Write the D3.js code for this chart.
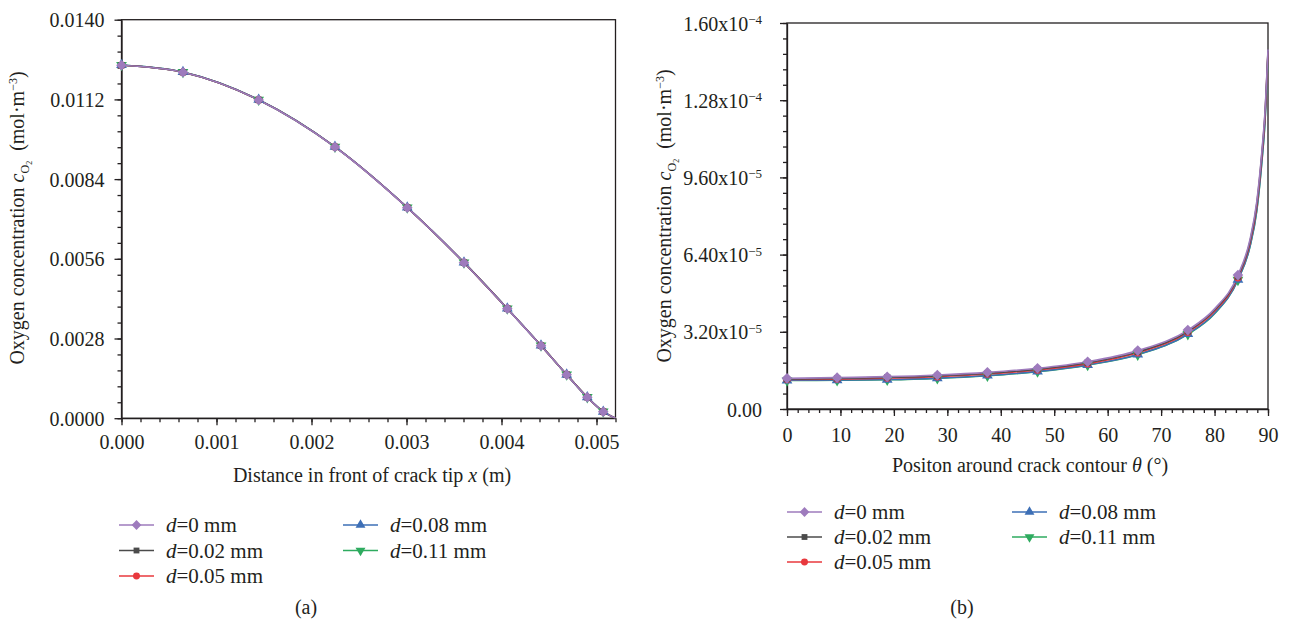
<!DOCTYPE html>
<html>
<head>
<meta charset="utf-8">
<script src="https://cdn.jsdelivr.net/npm/d3@7"></script>
<style>
  html, body { margin: 0; padding: 0; background: #fff; }
  svg { display: block; font-family: "Liberation Serif", "DejaVu Serif", serif; }
  .axis text { font-family: "Liberation Serif", serif; font-size: 20px; fill: #231f20; }
  .axis path, .axis line { stroke: #231f20; stroke-width: 1.3; }
</style>
</head>
<body>
<svg id="fig" width="1291" height="627"></svg>
<script>
// ---------- data ----------
// Series labels (thickness d) and their styles
const seriesNames = ["d=0 mm", "d=0.02 mm", "d=0.05 mm", "d=0.08 mm", "d=0.11 mm"];
const seriesColors = ["#9e7bbd", "#4b4b4b", "#e8383d", "#3d6fb6", "#2eab5f"];
const seriesSymbols = ["diamond", "square", "circle", "triangle", "triangleDown"];

// (a) distance ahead of crack tip x (m); last point is the crack-front end (no marker)
const xDist = [0, 0.000647, 0.001444, 0.002247, 0.003008, 0.003605, 0.004061, 0.004416, 0.004686, 0.004903, 0.005071, 0.0052];
const markedA = 11;
// concentration (mol/m^3) for each d – the five curves overlap
const concA_d0   = [0.012398, 0.012152, 0.011179, 0.009528, 0.007395, 0.005463, 0.003847, 0.002547, 0.001528, 0.000734, 0.000228, 0];
const concA_d002 = [0.012400, 0.012154, 0.011181, 0.009530, 0.007397, 0.005465, 0.003849, 0.002549, 0.001530, 0.000736, 0.000229, 0];
const concA_d005 = [0.012402, 0.012156, 0.011183, 0.009532, 0.007399, 0.005467, 0.003850, 0.002550, 0.001531, 0.000737, 0.000230, 0];
const concA_d008 = [0.012410, 0.012164, 0.011191, 0.009540, 0.007406, 0.005473, 0.003855, 0.002554, 0.001534, 0.000739, 0.000231, 0];
const concA_d011 = [0.012405, 0.012159, 0.011186, 0.009535, 0.007402, 0.005469, 0.003852, 0.002552, 0.001532, 0.000738, 0.000230, 0];

// (b) position around crack contour theta (deg); markers every 9.375 deg
const theta = [0, 9.375, 18.75, 28.125, 37.5, 46.875, 56.25, 65.625, 75, 80, 84.375, 86.6, 87.9, 88.9, 89.4, 90];
const markedB = [0, 1, 2, 3, 4, 5, 6, 7, 8, 10];
const concB_d0   = [1.27e-5, 1.30e-5, 1.34e-5, 1.41e-5, 1.52e-5, 1.69e-5, 1.96e-5, 2.42e-5, 3.27e-5, 4.15e-5, 5.55e-5, 7.00e-5, 8.60e-5, 1.08e-4, 1.22e-4, 1.49e-4];
const concB_d002 = [1.24e-5, 1.27e-5, 1.31e-5, 1.37e-5, 1.48e-5, 1.65e-5, 1.92e-5, 2.37e-5, 3.22e-5, 4.10e-5, 5.49e-5, 6.92e-5, 8.50e-5, 1.07e-4, 1.21e-4, 1.485e-4];
const concB_d005 = [1.22e-5, 1.24e-5, 1.28e-5, 1.34e-5, 1.45e-5, 1.62e-5, 1.88e-5, 2.33e-5, 3.18e-5, 4.05e-5, 5.44e-5, 6.85e-5, 8.40e-5, 1.06e-4, 1.20e-4, 1.48e-4];
const concB_d008 = [1.19e-5, 1.20e-5, 1.22e-5, 1.28e-5, 1.39e-5, 1.56e-5, 1.83e-5, 2.26e-5, 3.11e-5, 3.97e-5, 5.36e-5, 6.72e-5, 8.25e-5, 1.04e-4, 1.18e-4, 1.475e-4];
const concB_d011 = [1.18e-5, 1.19e-5, 1.21e-5, 1.27e-5, 1.38e-5, 1.55e-5, 1.82e-5, 2.25e-5, 3.10e-5, 3.95e-5, 5.35e-5, 6.70e-5, 8.20e-5, 1.035e-4, 1.175e-4, 1.47e-4];

// tick values
const ticksAx = [0, 0.001, 0.002, 0.003, 0.004, 0.005];
const ticksAy = [0, 0.0028, 0.0056, 0.0084, 0.0112, 0.0140];
const tickLabelsAy = ["0.0000", "0.0028", "0.0056", "0.0084", "0.0112", "0.0140"];
const ticksBx = [0, 10, 20, 30, 40, 50, 60, 70, 80, 90];
const ticksBy = [0, 3.2e-5, 6.4e-5, 9.6e-5, 1.28e-4, 1.6e-4];
const tickLabelsBy = ["0.00", "3.20x10|−5", "6.40x10|−5", "9.60x10|−5", "1.28x10|−4", "1.60x10|−4"];

const concA = [concA_d0, concA_d002, concA_d005, concA_d008, concA_d011];
const concB = [concB_d0, concB_d002, concB_d005, concB_d008, concB_d011];

// ---------- drawing ----------
const svg = d3.select("#fig");
const symbolType = {
  diamond: d3.symbolSquare, square: d3.symbolSquare, circle: d3.symbolCircle,
  triangle: d3.symbolTriangle, triangleDown: d3.symbolTriangle
};
const symbolSize = { diamond: 56, square: 40, circle: 45, triangle: 50, triangleDown: 50 };

function marker(g, kind, color, x, y, scale) {
  const s = scale || 1;
  const rot = kind === "triangleDown" ? " rotate(180)" : kind === "diamond" ? " rotate(45)" : "";
  g.append("path")
    .attr("d", d3.symbol().type(symbolType[kind]).size(symbolSize[kind] * s)())
    .attr("transform", `translate(${x},${y})` + rot)
    .attr("fill", color);
}

function minorTicks(domain, step) {
  const out = [];
  const n = Math.round((domain[1] - domain[0]) / step);
  for (let i = 0; i <= n; i++) out.push(domain[0] + i * step);
  return out;
}

function panel(opt) {
  const g = svg.append("g");
  const x = d3.scaleLinear().domain(opt.xDomain).range([opt.left, opt.right]);
  const y = d3.scaleLinear().domain(opt.yDomain).range([opt.bottom, opt.top]);

  // minor ticks
  g.append("g").attr("class", "axis").attr("transform", `translate(0,${opt.bottom})`)
    .call(d3.axisBottom(x).tickValues(minorTicks(opt.xDomain, opt.xMinor)).tickSize(4).tickFormat(""))
    .call(a => a.select(".domain").remove());
  g.append("g").attr("class", "axis").attr("transform", `translate(${opt.left},0)`)
    .call(d3.axisLeft(y).tickValues(minorTicks(opt.yDomain, opt.yMinor)).tickSize(4).tickFormat(""))
    .call(a => a.select(".domain").remove());

  // major ticks and labels
  g.append("g").attr("class", "axis").attr("transform", `translate(0,${opt.bottom})`)
    .call(d3.axisBottom(x).tickValues(opt.xTicks).tickSize(7).tickSizeOuter(0).tickPadding(opt.xPad).tickFormat(opt.xFormat));
  const ya = g.append("g").attr("class", "axis").attr("transform", `translate(${opt.left},0)`)
    .call(d3.axisLeft(y).tickValues(opt.yTicks).tickSize(7).tickSizeOuter(0).tickPadding(opt.yPad)
      .tickFormat((d, i) => opt.yLabels[i]));
  ya.selectAll(".tick text").each(function(d, i) {
    const parts = opt.yLabels[i].split("|");
    const t = d3.select(this).text(null);
    t.append("tspan").text(parts[0]);
    if (parts[1]) {
      t.append("tspan").attr("font-size", "13px").attr("dy", "-0.5em").text(parts[1]);
    }
  });
  ya.selectAll(".tick text").attr("dy", "0.35em");

  // frame
  g.append("rect").attr("x", opt.left).attr("y", opt.top)
    .attr("width", opt.right - opt.left).attr("height", opt.bottom - opt.top)
    .attr("fill", "none").attr("stroke", "#231f20").attr("stroke-width", 1.3);

  // curves, drawn so that d=0 ends on top
  const line = d3.line().curve(d3.curveMonotoneX).x(d => x(d[0])).y(d => y(d[1]));
  const clip = "clip-" + opt.id;
  g.append("clipPath").attr("id", clip).append("rect")
    .attr("x", opt.left).attr("y", opt.top - 2).attr("width", opt.right - opt.left + 1).attr("height", opt.bottom - opt.top + 2);
  const plot = g.append("g").attr("clip-path", `url(#${clip})`);
  for (let s = seriesNames.length - 1; s >= 0; s--) {
    const pts = opt.xs.map((v, i) => [v, opt.ys[s][i]]);
    plot.append("path").attr("d", line(pts)).attr("fill", "none")
      .attr("stroke", seriesColors[s]).attr("stroke-width", 1.6);
  }
  for (let s = seriesNames.length - 1; s >= 0; s--) {
    opt.markIdx.forEach(i => marker(g, seriesSymbols[s], seriesColors[s], x(opt.xs[i]), y(opt.ys[s][i]), 1));
  }

  // legend
  const lg = g.append("g");
  seriesNames.forEach((name, s) => {
    const col = s < 3 ? 0 : 1;
    const row = s < 3 ? s : s - 3;
    const lx = opt.legX[col];
    const ly = opt.legY + row * opt.legDy;
    lg.append("line").attr("x1", lx).attr("x2", lx + 35).attr("y1", ly).attr("y2", ly)
      .attr("stroke", seriesColors[s]).attr("stroke-width", 1.6);
    marker(lg, seriesSymbols[s], seriesColors[s], lx + 17.5, ly, 0.85);
    const t = lg.append("text").attr("x", lx + 47).attr("y", ly + 7)
      .attr("font-size", "21px").attr("fill", "#231f20");
    const eq = name.indexOf("=");
    t.append("tspan").attr("font-style", "italic").text(name.slice(0, eq));
    t.append("tspan").text(name.slice(eq));
  });

  // axis titles
  const xt = g.append("text").attr("x", opt.xTitleX).attr("y", opt.xTitleY)
    .attr("text-anchor", "middle").attr("font-size", "20px").attr("fill", "#231f20");
  opt.xTitle.forEach(p => {
    const ts = xt.append("tspan").text(p.t);
    if (p.i) ts.attr("font-style", "italic");
  });

  const yt = g.append("text")
    .attr("transform", `translate(${opt.yTitleX},${opt.yTitleY}) rotate(-90)`)
    .attr("text-anchor", "middle").attr("font-size", "20px").attr("fill", "#231f20");
  yt.append("tspan").text("Oxygen concentration ");
  yt.append("tspan").attr("font-style", "italic").text("c");
  yt.append("tspan").attr("font-size", "12px").attr("dy", "5").text("O");
  yt.append("tspan").attr("font-size", "8px").attr("dy", "3").text("2");
  yt.append("tspan").attr("dy", "-8").text("\u2002(mol·m");
  yt.append("tspan").attr("font-size", "12px").attr("dy", "-7").text("−3");
  yt.append("tspan").attr("dy", "7").text(")");

  g.append("text").attr("x", opt.capX).attr("y", 614).attr("text-anchor", "middle")
    .attr("font-size", "20px").attr("fill", "#231f20").text(opt.caption);
}

panel({
  id: "a",
  left: 121.5, right: 615.5, top: 19.7, bottom: 418.2,
  xDomain: [0, 0.0052], yDomain: [0, 0.014],
  xMinor: 0.0002, yMinor: 0.00056,
  xTicks: ticksAx, xFormat: d3.format(".3f"), xPad: 10,
  yTicks: ticksAy, yLabels: tickLabelsAy, yPad: 10,
  xs: xDist, ys: concA, markIdx: d3.range(markedA),
  legX: [119, 343], legY: 525, legDy: 25.5,
  xTitle: [{t: "Distance in front of crack tip "}, {t: "x", i: true}, {t: " (m)"}],
  xTitleX: 372, xTitleY: 482,
  yTitleX: 24, yTitleY: 218,
  caption: "(a)", capX: 306
});

panel({
  id: "b",
  left: 787, right: 1268, top: 23, bottom: 409,
  xDomain: [0, 90], yDomain: [0, 1.6e-4],
  xMinor: 2, yMinor: 6.4e-6,
  xTicks: ticksBx, xFormat: d3.format("d"), xPad: 12,
  yTicks: ticksBy, yLabels: tickLabelsBy, yPad: 18,
  xs: theta, ys: concB, markIdx: markedB,
  legX: [787, 1012], legY: 512, legDy: 25,
  xTitle: [{t: "Positon around crack contour "}, {t: "θ", i: true}, {t: " (°)"}],
  xTitleX: 1030, xTitleY: 472,
  yTitleX: 671, yTitleY: 216,
  caption: "(b)", capX: 962
});
</script>
</body>
</html>
